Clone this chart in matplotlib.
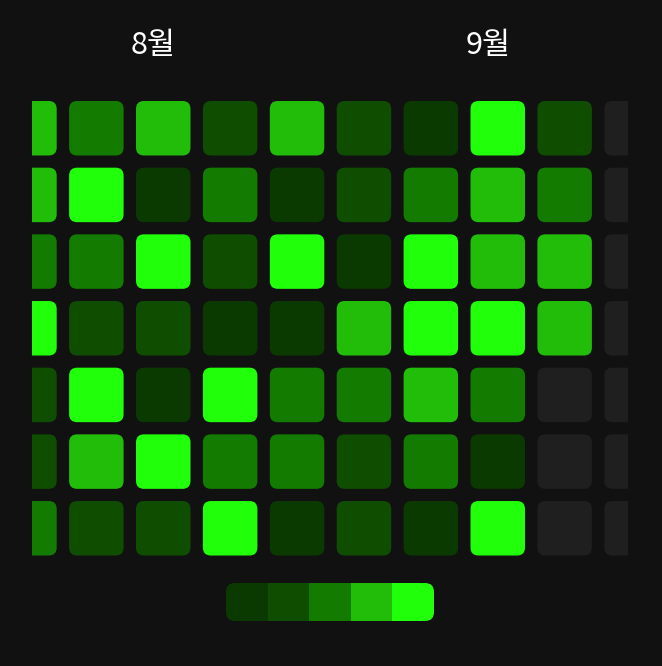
import matplotlib
matplotlib.use("Agg")
import matplotlib.pyplot as plt
from matplotlib.patches import FancyBboxPatch, Rectangle

plt.rcParams['font.family'] = ['Noto Sans CJK KR', 'DejaVu Sans']

# Activity levels (0 = no data), one list per weekday row, columns = weeks
row_mon = [4, 3, 4, 2, 4, 2, 1, 5, 2, 0]
row_tue = [4, 5, 1, 3, 1, 2, 3, 4, 3, 0]
row_wed = [3, 3, 5, 2, 5, 1, 5, 4, 4, 0]
row_thu = [5, 2, 2, 1, 1, 4, 5, 5, 4, 0]
row_fri = [2, 5, 1, 5, 3, 3, 4, 3, 0, 0]
row_sat = [2, 4, 5, 3, 3, 2, 3, 1, 0, 0]
row_sun = [3, 2, 2, 5, 1, 2, 1, 5, 0, 0]
rows = [row_mon, row_tue, row_wed, row_thu, row_fri, row_sat, row_sun]

month_labels = ["8월", "9월"]
month_cols = [2, 7]
legend_levels = [1, 2, 3, 4, 5]

BG = "#111111"
level_colors = {0: "#1f1f1f", 1: "#0b3a00", 2: "#0f4d00", 3: "#137c00",
                4: "#22bd08", 5: "#22ff0a"}

W, H = 662, 666
fig = plt.figure(figsize=(W / 100, H / 100), dpi=100, facecolor=BG)
ax = fig.add_axes([0, 0, 1, 1])
ax.set_facecolor(BG)
ax.set_xlim(0, W)
ax.set_ylim(H, 0)
ax.axis("off")

pitch_x, pitch_y = 66.9, 66.67
cell = 54.5
x_origin, y_origin = 2.2, 101
clip = Rectangle((32, 90), 596, 480, transform=ax.transData, visible=False)
ax.add_patch(clip)

for r, row in enumerate(rows):
    for c, lvl in enumerate(row):
        x0 = x_origin + c * pitch_x
        y0 = y_origin + r * pitch_y
        p = FancyBboxPatch((x0, y0), cell, cell,
                           boxstyle="round,pad=0,rounding_size=8",
                           facecolor=level_colors[lvl], edgecolor="none")
        ax.add_patch(p)
        p.set_clip_path(clip)

for lab, c in zip(month_labels, month_cols):
    xc = x_origin + c * pitch_x + cell / 2 - 10
    ax.text(xc, 45, lab, color="white", fontsize=22, fontweight="medium",
            ha="center", va="center")

# legend bar
lx, ly, lw, lh = 226, 583, 208, 38
bar_clip = FancyBboxPatch((lx, ly), lw, lh, boxstyle="round,pad=0,rounding_size=9",
                          transform=ax.transData, visible=False)
ax.add_patch(bar_clip)
seg = lw / len(legend_levels)
for i, lvl in enumerate(legend_levels):
    rect = Rectangle((lx + i * seg, ly), seg + 0.5, lh,
                     facecolor=level_colors[lvl], edgecolor="none")
    ax.add_patch(rect)
    rect.set_clip_path(bar_clip)

fig.savefig("out.png", dpi=100, facecolor=BG)
